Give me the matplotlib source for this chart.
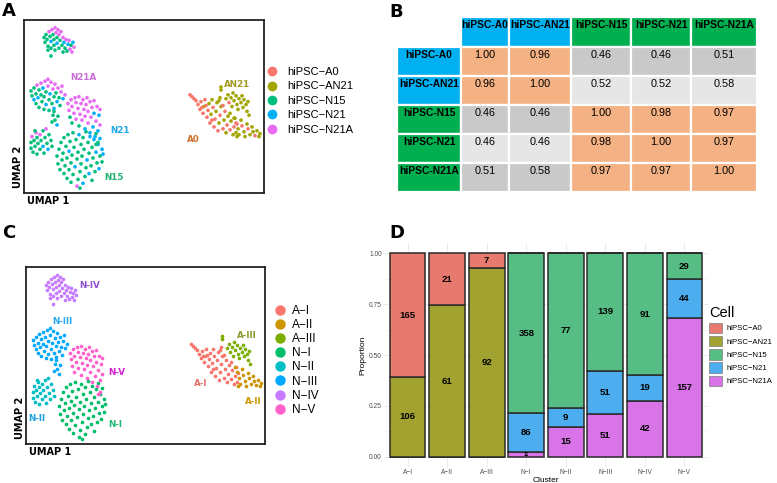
import numpy as np
import matplotlib
matplotlib.use("Agg")
import matplotlib.pyplot as plt
from matplotlib.lines import Line2D
from matplotlib.patches import Rectangle, Patch

W, H = 777, 483

# cell lines and clusters
CELLS = ['hiPSC-A0', 'hiPSC-AN21', 'hiPSC-N15', 'hiPSC-N21', 'hiPSC-N21A']
CLUSTERS = ['A-I', 'A-II', 'A-III', 'N-I', 'N-II', 'N-III', 'N-IV', 'N-V']

# UMAP points: (umap1, umap2, cell index)
PTS_N_IV = [(20,160,2),(21,155,2),(22,163,2),(23,158,2),(24,151,2),(25,166,4),(26,161,2),(27,156,3),
            (27,149,2),(28,168,4),(29,163,2),(30,158,2),(30,152,2),(31,170,4),(32,165,4),(33,160,2),
            (33,154,3),(34,168,4),(35,149,2),(35,163,4),(36,157,2),(37,166,4),(38,152,2),(39,160,4),
            (40,155,3),(41,149,2),(42,158,4),(43,146,2),(44,153,3),(45,157,4),(46,148,4),(47,152,2),
            (48,145,4),(49,155,3),(50,150,4),(27,141,2),(24,147,2),(31,147,2),(39,145,2)]
PTS_N_III = [(8,100,2),(7,105,2),(10,96,3),(10,108,2),(12,102,2),(12,92,2),(13,111,4),(14,98,3),
             (15,106,2),(15,88,2),(17,113,4),(17,101,2),(18,94,2),(19,108,3),(20,86,2),(20,99,2),
             (21,115,4),(22,104,2),(22,91,3),(24,117,4),(24,110,4),(25,96,2),(25,85,2),(26,102,3),
             (27,114,4),(28,92,2),(29,107,4),(30,99,2),(30,87,3),(31,112,4),(32,103,2),(33,94,3),
             (34,108,4),(35,98,2),(36,90,2),(37,104,4),(38,110,4),(39,97,3),(41,101,4),(29,80,2),
             (31,75,2),(33,70,3),(28,73,2),(34,79,2),(30,84,2)]
PTS_N_V = [(44,92,4),(45,85,4),(46,78,2),(47,96,4),(48,89,4),(48,72,2),(50,82,4),(51,98,4),
           (52,93,4),(52,76,4),(54,87,4),(55,99,4),(55,69,2),(56,81,4),(57,92,4),(58,75,4),
           (59,96,4),(60,86,4),(61,66,3),(61,79,4),(62,91,4),(63,98,4),(64,72,4),(64,84,4),
           (66,94,4),(66,62,3),(67,78,4),(68,88,4),(69,68,3),(70,95,4),(70,82,3),(71,58,3),
           (72,74,4),(73,89,4),(74,64,3),(75,80,3),(76,70,4),(74,52,2),(76,86,4),(72,50,2)]
PTS_N_II = [(7,52,2),(7,46,2),(8,58,4),(9,42,2),(10,54,2),(11,48,2),(12,62,4),(13,40,2),
            (13,57,2),(14,51,2),(16,45,2),(16,60,4),(17,54,2),(19,48,3),(19,64,2),(20,41,2),
            (21,57,2),(23,51,2),(24,45,3),(25,60,2),(27,54,2),(28,48,2),(22,66,4),(11,64,2)]
PTS_N_I = [(34,30,2),(33,38,2),(35,45,2),(36,24,2),(37,52,2),(38,34,2),(39,41,2),(40,20,2),
           (40,57,2),(41,28,2),(42,48,2),(43,36,2),(43,15,2),(44,60,2),(45,24,2),(45,43,3),
           (46,53,2),(47,31,2),(47,11,2),(48,39,2),(49,19,2),(49,62,2),(50,47,2),(51,27,3),
           (52,55,2),(53,7,4),(53,35,2),(54,14,2),(54,42,2),(55,60,3),(56,22,2),(57,50,2),
           (57,30,2),(58,38,2),(59,10,3),(59,57,2),(60,45,2),(61,17,2),(62,26,2),(62,63,2),
           (63,34,3),(64,52,2),(65,41,2),(65,20,3),(66,58,3),(67,28,2),(68,47,2),(68,13,2),
           (69,36,2),(70,55,3),(71,22,2),(72,42,3),(72,61,2),(73,31,2),(74,50,3),(75,25,3),
           (76,38,2),(76,56,3),(78,45,3),(78,32,2),(79,40,3),(56,5,2)]
PTS_A_I = [(166,101,0),(168,99,0),(170,97,0),(172,95,0),(174,91,0),(176,86,0),(177,94,0),(179,82,0),
           (180,89,1),(181,96,0),(183,78,0),(184,85,0),(185,92,1),(186,72,0),(187,81,1),(188,96,1),
           (189,88,0),(190,68,0),(191,76,0),(192,84,1),(193,93,1),(194,64,0),(195,72,1),(196,80,0),
           (197,89,1),(196,98,1),(199,66,0),(200,75,1),(201,84,0),(202,62,1),(203,70,0),(204,79,1),
           (199,90,0),(206,65,0),(207,74,1),(206,82,1),(209,60,1),(210,68,0),(211,77,1),(212,62,1),
           (213,71,0),(182,90,0),(195,95,1),(188,75,0),(178,88,0)]
PTS_A_II = [(210,77,1),(212,72,0),(214,66,1),(215,60,1),(217,75,1),(218,69,0),(220,63,1),(221,58,1),
            (223,71,1),(224,66,0),(226,60,1),(228,68,1),(229,63,1),(231,59,0),(233,64,1),(235,58,1),
            (236,61,1),(213,58,1)]
PTS_A_III = [(202,97,1),(204,101,1),(205,93,0),(207,98,1),(208,89,1),(209,103,1),(210,95,1),
             (212,100,1),(213,91,1),(214,86,1),(215,97,1),(217,93,1),(218,100,1),(219,88,1),
             (220,96,1),(222,91,1),(223,84,1),(224,94,1),(225,80,1),(197,109,1),(197,106,1)]

# Pearson similarity between cell lines (panel B)
SIM_A0   = [1.00, 0.96, 0.46, 0.46, 0.51]
SIM_AN21 = [0.96, 1.00, 0.52, 0.52, 0.58]
SIM_N15  = [0.46, 0.46, 1.00, 0.98, 0.97]
SIM_N21  = [0.46, 0.46, 0.98, 1.00, 0.97]
SIM_N21A = [0.51, 0.58, 0.97, 0.97, 1.00]

# cell counts per cluster (panel D)
COUNT_A0   = [165, 21, 7, 0, 0, 0, 0, 0]
COUNT_AN21 = [106, 61, 92, 0, 0, 0, 0, 0]
COUNT_N15  = [0, 0, 0, 358, 77, 139, 91, 29]
COUNT_N21  = [0, 0, 0, 86, 9, 51, 19, 44]
COUNT_N21A = [0, 0, 0, 11, 15, 51, 42, 157]

cluster_pts = [PTS_A_I, PTS_A_II, PTS_A_III, PTS_N_I, PTS_N_II, PTS_N_III, PTS_N_IV, PTS_N_V]
sim = [SIM_A0, SIM_AN21, SIM_N15, SIM_N21, SIM_N21A]
counts = [COUNT_A0, COUNT_AN21, COUNT_N15, COUNT_N21, COUNT_N21A]

cell_cols = ['#F8766D', '#A3A500', '#00BF7D', '#00B0F6', '#E76BF3']
clus_cols = ['#F8766D', '#CD9600', '#7CAE00', '#00BE67', '#00BFC4', '#00A9FF', '#C77CFF', '#FF61CC']
bar_cols = ['#E8796F', '#A2A231', '#56BD84', '#4DAEEF', '#D873E8']

LEG = 'Liberation Sans'
MINUS = '\u2212'

fig = plt.figure(figsize=(W / 100, H / 100), dpi=100)


def px_axes(x0, y0, x1, y1):
    return fig.add_axes([x0 / W, 1 - y1 / H, (x1 - x0) / W, (y1 - y0) / H])


def umap_frame(ax):
    ax.set_xlim(0, 240)
    ax.set_ylim(0, 178)
    ax.set_xticks([])
    ax.set_yticks([])
    for s in ax.spines.values():
        s.set_linewidth(1.3)
        s.set_color('#222222')
    ax.text(0.012, -0.015, 'UMAP 1', transform=ax.transAxes, ha='left', va='top',
            fontsize=7, fontweight='bold')
    ax.text(-0.027, 0.03, 'UMAP 2', transform=ax.transAxes, ha='center', va='bottom',
            rotation=90, fontsize=7, fontweight='bold')


# ---- panel A: UMAP coloured by cell line
axa = px_axes(24, 20, 264, 193)
allp = np.array([p for pts in cluster_pts for p in pts])
axa.scatter(allp[:, 0], allp[:, 1], s=7, c=[cell_cols[int(k)] for k in allp[:, 2]],
            linewidths=0)
umap_frame(axa)
lab_a = [('N21A', 59, 119, '#C86DD7'), ('AN21', 213, 112, '#A09A20'), ('N21', 96, 64, '#1FA8EE'),
         ('A0', 169, 55, '#D0702C'), ('N15', 90, 16, '#1DB374')]
for t, x, y, c in lab_a:
    axa.text(x, y, t, color=c, fontsize=6.3, fontweight='bold', ha='center', va='center')

hs = [Line2D([], [], marker='o', ls='', ms=6, color=c) for c in cell_cols]
fig.legend(hs, [c.replace('-', MINUS) for c in CELLS], loc='upper left',
           bbox_to_anchor=(268 / W, 1 - 67 / H), frameon=False, prop={'family': LEG, 'size': 8},
           handlelength=0.8, handletextpad=0.9, labelspacing=0.4, borderpad=0, borderaxespad=0)

# ---- panel C: UMAP coloured by cluster
axc = px_axes(26, 267, 265, 444)
for i, pts in enumerate(cluster_pts):
    p = np.array(pts)
    axc.scatter(p[:, 0], p[:, 1], s=7, color=clus_cols[i], linewidths=0)
umap_frame(axc)
lab_c = {'N-IV': (64, 159, '#8E4FD0'), 'N-III': (37, 123, '#2AA9F0'), 'A-III': (222, 109, '#8A9A2A'),
         'N-V': (91, 72, '#D21FD0'), 'A-I': (175, 61, '#E0706A'), 'A-II': (228, 43, '#CD9600'),
         'N-II': (11, 26, '#1E9FE0'), 'N-I': (90, 20, '#22B573')}
for t, (x, y, c) in lab_c.items():
    axc.text(x, y, t, color=c, fontsize=6.3, fontweight='bold', ha='center', va='center')

hs = [Line2D([], [], marker='o', ls='', ms=6.5, color=c) for c in clus_cols]
fig.legend(hs, [c.replace('-', MINUS) for c in CLUSTERS], loc='upper left',
           bbox_to_anchor=(275 / W, 1 - 305 / H), frameon=False, prop={'family': LEG, 'size': 8.5},
           handlelength=0.8, handletextpad=0.65, labelspacing=0.18, borderpad=0, borderaxespad=0)

# ---- panel B: similarity table
tab = px_axes(397, 17, 757, 192)
tab.set_xlim(397, 757)
tab.set_ylim(192, 17)
tab.axis('off')
col_edges = [397, 461, 509, 571, 631, 691, 757]
row_edges = [17, 47, 76, 105, 134, 163, 192]
grp_col = ['#00B0F0', '#00B0F0', '#00B050', '#00B050', '#00B050']


def cell(r, c, fc, txt, bold):
    x0, x1 = col_edges[c], col_edges[c + 1]
    y0, y1 = row_edges[r], row_edges[r + 1]
    tab.add_patch(Rectangle((x0, y0), x1 - x0, y1 - y0, facecolor=fc, edgecolor='white', lw=1.6))
    tab.text((x0 + x1) / 2, y0 + 0.27 * (y1 - y0), txt, ha='center', va='center',
             family=LEG, fontsize=7.4 if bold else 7.8, fontweight='bold' if bold else 'normal')


for j, name in enumerate(CELLS):
    cell(0, j + 1, grp_col[j], name, True)
    cell(j + 1, 0, grp_col[j], name, True)
for i in range(5):
    for j in range(5):
        v = sim[i][j]
        if v >= 0.9:
            fc = '#F4B183'
        else:
            fc = '#C9C9C9' if i % 2 == 0 else '#E7E6E6'
        cell(i + 1, j + 1, fc, f'{v:.2f}', False)

# ---- panel D: stacked proportions
axd = px_axes(384, 243, 708, 467)
x = np.arange(1, len(CLUSTERS) + 1)
tot = np.sum(np.array(counts), axis=0)
bottom = np.zeros(len(CLUSTERS))
for k in [4, 3, 2, 1, 0]:
    cnt = np.array(counts[k])
    prop = cnt / tot
    axd.bar(x, prop, 0.9, bottom=bottom, color=bar_cols[k], edgecolor='#2B2B2B', linewidth=1.1,
            zorder=2)
    for xi, n, b, p in zip(x, cnt, bottom, prop):
        if n > 0:
            axd.text(xi, b + p / 2, str(n), ha='center', va='center', family=LEG, fontweight='bold',
                     fontsize=6.8 if p > 0.05 else 3.5, zorder=3)
    bottom += prop
axd.set_xlim(0.4, 8.6)
axd.set_ylim(-0.05, 1.05)
axd.set_xticks(x)
axd.set_xticklabels([c.replace('-', MINUS) for c in CLUSTERS], family=LEG)
axd.set_yticks([0, 0.25, 0.5, 0.75, 1.0])
axd.set_yticklabels(['0.00', '0.25', '0.50', '0.75', '1.00'], family=LEG)
axd.set_yticks([0.125, 0.375, 0.625, 0.875], minor=True)
axd.grid(True, which='major', color='#EBEBEB', lw=0.7, zorder=0)
axd.grid(True, which='minor', axis='y', color='#F3F3F3', lw=0.5, zorder=0)
axd.set_axisbelow(True)
for s in axd.spines.values():
    s.set_visible(False)
axd.tick_params(which='both', length=0, labelsize=4.8, colors='#4D4D4D', pad=1.5)
axd.set_xlabel('Cluster', family=LEG, fontsize=6, labelpad=0.5)
axd.set_ylabel('Proportion', family=LEG, fontsize=6, labelpad=2)

hs = [Patch(facecolor=c, edgecolor='#8A8A8A', lw=0.6) for c in bar_cols]
fig.legend(hs, [c.replace('-', MINUS) for c in CELLS], title='Cell', loc='upper left',
           bbox_to_anchor=(709 / W, 1 - 306 / H), frameon=False, prop={'family': LEG, 'size': 5.6},
           title_fontproperties={'family': LEG, 'size': 10.5}, alignment='left',
           handlelength=1.7, handleheight=1.7, labelspacing=0.35, handletextpad=0.6,
           borderpad=0, borderaxespad=0)

# panel letters
for t, xx, yy in [('A', 2, 2), ('B', 389, 3), ('C', 2, 224), ('D', 389, 224)]:
    fig.text(xx / W, 1 - yy / H, t, fontsize=13, fontweight='bold', ha='left', va='top')

fig.savefig('out.png', dpi=100)
